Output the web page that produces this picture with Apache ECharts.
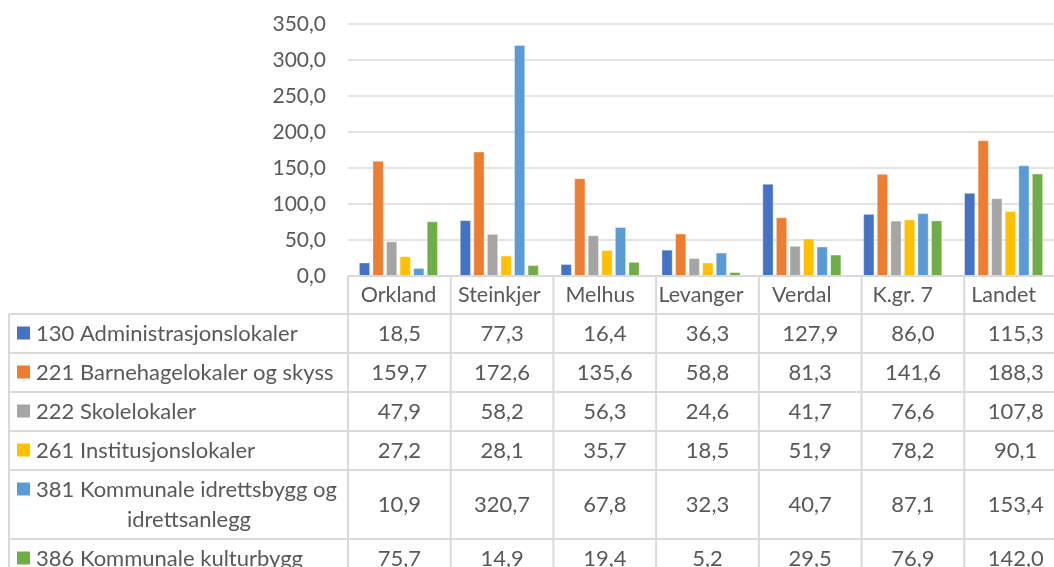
<!DOCTYPE html>
<html>
<head>
<meta charset="utf-8">
<script src="https://cdn.jsdelivr.net/npm/echarts@6/dist/echarts.min.js"></script>
<style>
html,body{margin:0;padding:0;background:#fff;overflow:hidden;}
#c{width:1054px;height:567px;}
</style>
</head>
<body>
<div id="c"></div>
<script>
// ---- data ----
const categories = ['Orkland', 'Steinkjer', 'Melhus', 'Levanger', 'Verdal', 'K.gr. 7', 'Landet'];
const seriesNames = ['130 Administrasjonslokaler', '221 Barnehagelokaler og skyss', '222 Skolelokaler', '261 Institusjonslokaler', '381 Kommunale idrettsbygg og idrettsanlegg', '386 Kommunale kulturbygg'];
const rowLabelLines = [['130 Administrasjonslokaler'], ['221 Barnehagelokaler og skyss'], ['222 Skolelokaler'], ['261 Institusjonslokaler'], ['381 Kommunale idrettsbygg og', 'idrettsanlegg'], ['386 Kommunale kulturbygg']];
const s130 = [18.5, 77.3, 16.4, 36.3, 127.9, 86.0, 115.3];
const s221 = [159.7, 172.6, 135.6, 58.8, 81.3, 141.6, 188.3];
const s222 = [47.9, 58.2, 56.3, 24.6, 41.7, 76.6, 107.8];
const s261 = [27.2, 28.1, 35.7, 18.5, 51.9, 78.2, 90.1];
const s381 = [10.9, 320.7, 67.8, 32.3, 40.7, 87.1, 153.4];
const s386 = [75.7, 14.9, 19.4, 5.2, 29.5, 76.9, 142.0];
const yMin = 0, yMax = 350, yStep = 50;
const colors = ['#4472C4', '#ED7D31', '#A5A5A5', '#FFC000', '#5B9BD5', '#70AD47'];
const allSeries = [s130, s221, s222, s261, s381, s386];

// ---- layout ----
const FONT = 'Lato, "Open Sans", sans-serif';
const TXT = '#595959';
const LINE = '#d9d9d9';
const gridLeft = 348, gridRight = -13, gridTop = 24, gridBottom = 291;
const W = 1054, H = 567;
const plotRight = W - gridRight;
const axisY = H - gridBottom;            // 276
const catRowBottom = 314;
const rowTops = [314, 353, 392, 431, 470, 539];
const rowHeights = [39, 39, 39, 39, 69, 39];
const tableLeft = 9;

const fmt = v => v.toFixed(1).replace('.', ',');

const chart = echarts.init(document.getElementById('c'), null, {renderer: 'canvas'});

const band = (plotRight - gridLeft) / categories.length;
const graphics = [];
function hline(x1, x2, y) {
  graphics.push({type: 'line', silent: true, z: 10, shape: {x1: x1, y1: y, x2: x2, y2: y}, style: {stroke: LINE, lineWidth: 2}});
}
function vline(x, y1, y2) {
  graphics.push({type: 'line', silent: true, z: 10, shape: {x1: x, y1: y1, x2: x, y2: y2}, style: {stroke: LINE, lineWidth: 2}});
}
// horizontal lines
hline(gridLeft, plotRight + 2, axisY);
rowTops.forEach(y => hline(tableLeft, plotRight + 2, y));
// vertical lines
for (let i = 0; i <= categories.length; i++) vline(gridLeft + i * band, axisY, H + 40);
vline(tableLeft, catRowBottom, H + 40);

// row labels + values
rowLabelLines.forEach((lines, r) => {
  const top = rowTops[r], h = rowHeights[r];
  const lh = 30;
  const firstY = top + h / 2 - (lines.length - 1) * lh / 2;
  graphics.push({type: 'rect', silent: true, z: 11, shape: {x: 17, y: firstY - 7, width: 13, height: 13}, style: {fill: colors[r]}});
  lines.forEach((ln, k) => {
    graphics.push({type: 'text', silent: true, z: 11,
      style: {text: ln, x: k === 0 ? 36 : 189, y: firstY + k * lh, textAlign: k === 0 ? 'left' : 'center', textVerticalAlign: 'middle',
        font: '22px ' + FONT, fill: TXT}});
  });
  allSeries[r].forEach((v, c) => {
    graphics.push({type: 'text', silent: true, z: 11,
      style: {text: fmt(v), x: gridLeft + (c + 0.5) * band, y: top + h / 2, textAlign: 'center', textVerticalAlign: 'middle',
        font: '22px ' + FONT, fill: TXT}});
  });
});

const option = {
  animation: false,
  backgroundColor: '#fff',
  textStyle: {fontFamily: FONT},
  grid: {left: gridLeft, right: gridRight, top: gridTop, bottom: gridBottom, containLabel: false},
  xAxis: {
    type: 'category', data: categories,
    axisLine: {show: false}, axisTick: {show: false},
    axisLabel: {color: TXT, fontSize: 21.5, fontFamily: FONT, margin: 19, verticalAlign: 'middle', interval: 0}
  },
  yAxis: {
    type: 'value', min: yMin, max: yMax, interval: yStep,
    axisLine: {show: false}, axisTick: {show: false},
    axisLabel: {color: TXT, fontSize: 21, fontFamily: FONT, margin: 22, formatter: v => fmt(v)},
    splitLine: {lineStyle: {color: LINE, width: 1.5}}
  },
  series: allSeries.map((d, i) => ({
    name: seriesNames[i], type: 'bar', data: d,
    barGap: '25%', barCategoryGap: '22%',
    itemStyle: {color: colors[i], borderColor: 'rgba(255,255,255,0.6)', borderWidth: 0.6}
  })),
  graphic: graphics
};
chart.setOption(option);
</script>
</body>
</html>
